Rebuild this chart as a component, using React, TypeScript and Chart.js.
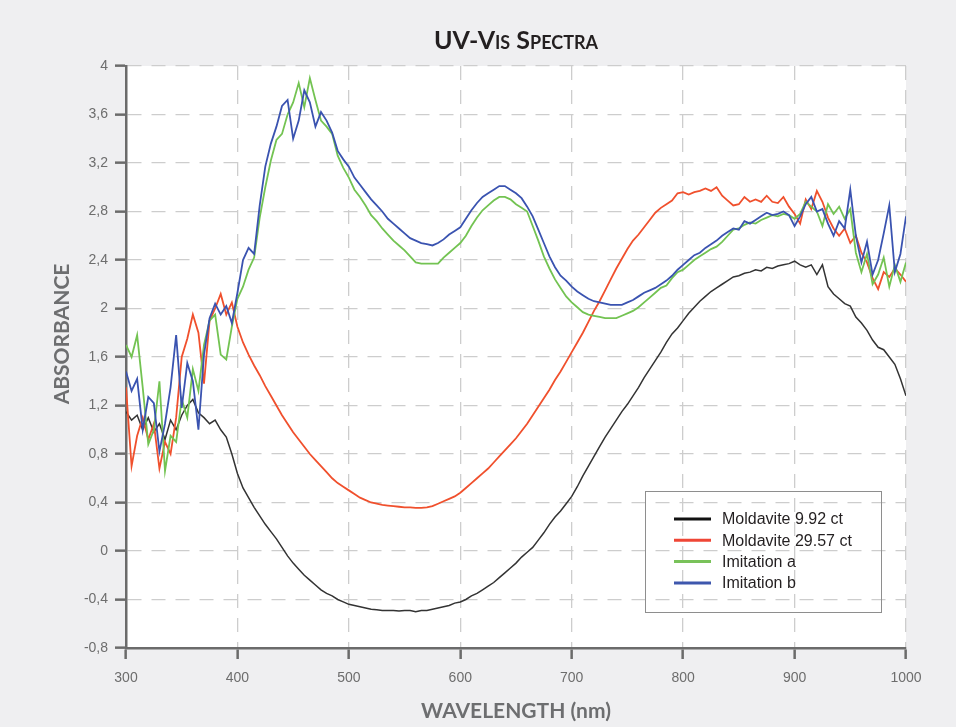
import React, { useEffect, useRef } from 'react';
import { Chart, registerables } from 'chart.js';

Chart.register(...registerables);

// ---- Data ----
const wavelengths = [
  300, 305, 310, 315, 320, 325, 330, 335, 340, 345,
  350, 355, 360, 365, 370, 375, 380, 385, 390, 395,
  400, 405, 410, 415, 420, 425, 430, 435, 440, 445,
  450, 455, 460, 465, 470, 475, 480, 485, 490, 495,
  500, 505, 510, 515, 520, 525, 530, 535, 540, 545,
  550, 555, 560, 565, 570, 575, 580, 585, 590, 595,
  600, 605, 610, 615, 620, 625, 630, 635, 640, 645,
  650, 655, 660, 665, 670, 675, 680, 685, 690, 695,
  700, 705, 710, 715, 720, 725, 730, 735, 740, 745,
  750, 755, 760, 765, 770, 775, 780, 785, 790, 795,
  800, 805, 810, 815, 820, 825, 830, 835, 840, 845,
  850, 855, 860, 865, 870, 875, 880, 885, 890, 895,
  900, 905, 910, 915, 920, 925, 930, 935, 940, 945,
  950, 955, 960, 965, 970, 975, 980, 985, 990, 995,
  1000,
];

const moldavite992 = [
  1.15, 1.08, 1.12, 1.0, 1.1, 0.98, 1.05, 0.92, 1.08, 1.0,
  1.12, 1.2, 1.25, 1.14, 1.1, 1.05, 1.08, 1.0, 0.94, 0.8,
  0.64, 0.52, 0.44, 0.36, 0.29, 0.22, 0.16, 0.1, 0.03, -0.04,
  -0.1, -0.15, -0.2, -0.24, -0.28, -0.32, -0.35, -0.37, -0.4, -0.42,
  -0.44, -0.45, -0.46, -0.47, -0.48, -0.485, -0.49, -0.49, -0.49, -0.495,
  -0.49, -0.49, -0.5, -0.49, -0.49, -0.48, -0.47, -0.46, -0.45, -0.43,
  -0.42, -0.4, -0.37, -0.35, -0.32, -0.29, -0.26, -0.22, -0.18, -0.14,
  -0.1, -0.05, -0.01, 0.03, 0.09, 0.15, 0.22, 0.28, 0.33, 0.39,
  0.45, 0.53, 0.62, 0.7, 0.78, 0.86, 0.94, 1.01, 1.08, 1.15,
  1.21, 1.28, 1.35, 1.43, 1.5, 1.57, 1.64, 1.72, 1.79, 1.84,
  1.9, 1.96, 2.01, 2.06, 2.1, 2.14, 2.17, 2.2, 2.23, 2.26,
  2.27, 2.29, 2.3, 2.32, 2.31, 2.34, 2.33, 2.35, 2.36, 2.37,
  2.39, 2.36, 2.34, 2.36, 2.28, 2.36, 2.18, 2.12, 2.08, 2.04,
  2.02, 1.93, 1.88, 1.82, 1.74, 1.68, 1.66, 1.6, 1.54, 1.42,
  1.28,
];

const moldavite2957 = [
  1.35, 0.7, 0.95, 1.1, 0.92, 1.05, 0.68, 0.9, 0.8, 1.1,
  1.6, 1.75, 1.95, 1.8, 1.38, 1.9, 2.0, 2.12, 1.95, 2.05,
  1.85, 1.72, 1.62, 1.53, 1.45, 1.36, 1.28, 1.2, 1.12, 1.05,
  0.98, 0.92, 0.86, 0.8, 0.75, 0.7, 0.65, 0.6, 0.56, 0.53,
  0.5, 0.47, 0.44, 0.42, 0.4, 0.39, 0.38, 0.375, 0.37, 0.365,
  0.36, 0.36, 0.355, 0.355, 0.36, 0.37, 0.39, 0.41, 0.43, 0.45,
  0.48, 0.52, 0.56, 0.6, 0.64, 0.68, 0.73, 0.78, 0.83, 0.88,
  0.93, 0.99, 1.05, 1.12, 1.19, 1.26, 1.33, 1.41, 1.48, 1.56,
  1.64, 1.72, 1.8, 1.89, 1.98, 2.06, 2.15, 2.24, 2.33, 2.41,
  2.49, 2.56, 2.61, 2.67, 2.73, 2.79, 2.83, 2.86, 2.89, 2.95,
  2.96, 2.94, 2.96, 2.97, 2.99, 2.97, 3.0, 2.93, 2.89, 2.85,
  2.86, 2.92, 2.88, 2.9, 2.88, 2.93, 2.88, 2.87, 2.92, 2.84,
  2.78, 2.7, 2.9, 2.82, 2.97, 2.88, 2.75, 2.66, 2.6, 2.66,
  2.54, 2.6, 2.46, 2.38, 2.25, 2.16, 2.3, 2.26, 2.33, 2.28,
  2.22,
];

const imitationA = [
  1.7, 1.6, 1.78, 1.35, 0.88, 1.0, 1.4, 0.66, 0.95, 0.9,
  1.25, 1.1, 1.5, 1.32, 1.7, 1.9, 1.95, 1.62, 1.58, 1.85,
  2.08, 2.18, 2.32, 2.42, 2.75, 3.0, 3.22, 3.39, 3.44, 3.6,
  3.7, 3.86, 3.66, 3.9, 3.72, 3.55, 3.5, 3.44, 3.26, 3.16,
  3.08, 2.98, 2.92, 2.85, 2.77, 2.72, 2.66, 2.61, 2.56, 2.52,
  2.48, 2.43, 2.38, 2.37, 2.37, 2.37, 2.37, 2.42, 2.46, 2.5,
  2.54, 2.6, 2.68, 2.75, 2.81, 2.85, 2.89, 2.92, 2.92, 2.9,
  2.86, 2.83, 2.8, 2.68, 2.56, 2.43, 2.33, 2.24, 2.17, 2.1,
  2.05, 2.01, 1.97, 1.95, 1.94, 1.93, 1.92, 1.92, 1.92, 1.94,
  1.96, 1.98, 2.01, 2.05, 2.09, 2.13, 2.17, 2.19, 2.25, 2.3,
  2.32, 2.36, 2.4, 2.43, 2.46, 2.49, 2.51, 2.55, 2.6, 2.65,
  2.66, 2.69, 2.71, 2.7, 2.73, 2.75, 2.77, 2.76, 2.78, 2.77,
  2.74, 2.78, 2.88, 2.84, 2.8, 2.68, 2.86, 2.78, 2.84, 2.74,
  2.82, 2.46, 2.3, 2.45, 2.2, 2.28, 2.42, 2.18, 2.36, 2.22,
  2.38,
];

const imitationB = [
  1.48, 1.32, 1.42, 1.0, 1.27, 1.22, 0.82, 1.05, 1.35, 1.78,
  1.18, 1.55, 1.4, 1.0, 1.62, 1.92, 2.04, 1.95, 2.02, 1.88,
  2.13, 2.4, 2.5, 2.45, 2.85, 3.17, 3.36, 3.5, 3.67, 3.72,
  3.4, 3.55, 3.8, 3.7, 3.5, 3.62, 3.55, 3.45, 3.3, 3.23,
  3.17, 3.08, 3.02, 2.96, 2.9, 2.85, 2.8, 2.74, 2.7, 2.66,
  2.62, 2.58, 2.56, 2.54, 2.53, 2.52, 2.54, 2.57, 2.61, 2.64,
  2.67, 2.74, 2.81, 2.87, 2.92, 2.95, 2.98, 3.01, 3.01, 2.98,
  2.95, 2.91, 2.84, 2.76, 2.65, 2.54, 2.43, 2.34, 2.27, 2.23,
  2.18, 2.14, 2.11, 2.08, 2.06, 2.05, 2.04, 2.03, 2.03, 2.03,
  2.05, 2.07, 2.1, 2.13, 2.15, 2.17, 2.2, 2.23, 2.27, 2.32,
  2.36, 2.4, 2.44, 2.46, 2.5, 2.53, 2.56, 2.6, 2.63, 2.66,
  2.65, 2.72, 2.7, 2.73, 2.76, 2.79, 2.77, 2.78, 2.8, 2.77,
  2.68, 2.76, 2.86, 2.92, 2.8, 2.82, 2.7, 2.6, 2.72, 2.66,
  2.98, 2.6, 2.38, 2.55, 2.28, 2.4, 2.62, 2.85, 2.3, 2.45,
  2.76,
];

const seriesLabels = ['Moldavite 9.92 ct', 'Moldavite 29.57 ct', 'Imitation a', 'Imitation b'];
const seriesData = [moldavite992, moldavite2957, imitationA, imitationB];
const lineColors = ['#333333', '#f0502d', '#73c352', '#3a53b0'];
const legendColors = ['#111111', '#ef4636', '#79c25a', '#3e57ad'];

const xTickValues = [300, 400, 500, 600, 700, 800, 900, 1000];
const yTickValues = [-0.8, -0.4, 0, 0.4, 0.8, 1.2, 1.6, 2, 2.4, 2.8, 3.2, 3.6, 4];

const chartTitle = 'UV-Vis Spectra';
const xTitle = 'WAVELENGTH (nm)';
const yTitle = 'ABSORBANCE';

const AXIS_GRAY = '#6b6b6b';
const GRID_GRAY = '#cdcdcd';
const TICK_FONT = { family: '"Liberation Sans", Arial, sans-serif', size: 14 };

const decorPlugin = {
  id: 'decor',
  beforeDraw(chart: any) {
    const { ctx, chartArea: a } = chart;
    ctx.save();
    ctx.fillStyle = '#ffffff';
    ctx.fillRect(a.left, a.top, a.right - a.left, a.bottom - a.top);
    ctx.restore();
  },
  afterDraw(chart: any) {
    const { ctx, chartArea: a } = chart;
    const cx = (a.left + a.right) / 2;
    ctx.save();

    // Title in small caps
    const big = 25;
    const small = 18;
    const runs: { t: string; s: number }[] = [];
    for (const ch of chartTitle) {
      const isLower = ch !== ch.toUpperCase();
      const size = isLower ? small : big;
      const last = runs[runs.length - 1];
      if (last && last.s === size) last.t += ch.toUpperCase();
      else runs.push({ t: ch.toUpperCase(), s: size });
    }
    let total = 0;
    for (const r of runs) {
      ctx.font = `bold ${r.s}px Lato, "Open Sans", sans-serif`;
      total += ctx.measureText(r.t).width;
    }
    let x = cx - total / 2;
    ctx.fillStyle = '#231f20';
    ctx.textBaseline = 'alphabetic';
    ctx.textAlign = 'left';
    for (const r of runs) {
      ctx.font = `bold ${r.s}px Lato, "Open Sans", sans-serif`;
      ctx.fillText(r.t, x, 49);
      x += ctx.measureText(r.t).width;
    }

    // Axis titles
    ctx.fillStyle = '#6d6e70';
    ctx.font = 'bold 21px Lato, "Open Sans", sans-serif';
    ctx.textAlign = 'center';
    ctx.fillText(xTitle, cx, 718);
    ctx.save();
    ctx.translate(69, 334);
    ctx.rotate(-Math.PI / 2);
    ctx.fillText(yTitle, 0, 0);
    ctx.restore();

    // Legend box
    ctx.strokeStyle = '#8e8e8e';
    ctx.lineWidth = 1;
    ctx.strokeRect(645.5, 491.5, 236, 121);
    ctx.font = '16px "Liberation Sans", Arial, sans-serif';
    ctx.textAlign = 'left';
    ctx.textBaseline = 'middle';
    for (let i = 0; i < seriesLabels.length; i++) {
      const y = 519 + i * 21.3;
      ctx.strokeStyle = legendColors[i];
      ctx.lineWidth = 3;
      ctx.beginPath();
      ctx.moveTo(674, y);
      ctx.lineTo(711, y);
      ctx.stroke();
      ctx.fillStyle = '#231f20';
      ctx.fillText(seriesLabels[i], 722, y + 1);
    }
    ctx.restore();
  },
};

export default function App() {
  const ref = useRef<HTMLCanvasElement | null>(null);

  useEffect(() => {
    if (!ref.current) return;
    const datasets = seriesData.map((vals, i) => ({
      label: seriesLabels[i],
      data: wavelengths.map((w, j) => ({ x: w, y: vals[j] })),
      borderColor: lineColors[i],
      backgroundColor: lineColors[i],
      borderWidth: i === 0 ? 1.5 : 1.8,
      pointRadius: 0,
      tension: 0,
      fill: false,
      order: 3 - i,
    }));

    const chart = new Chart(ref.current, {
      type: 'line',
      data: { datasets },
      options: {
        responsive: false,
        animation: false,
        devicePixelRatio: 1,
        events: [],
        layout: { padding: { top: 66, right: 50, left: 0, bottom: 0 } },
        plugins: {
          legend: { display: false },
          title: { display: false },
          tooltip: { enabled: false },
        },
        scales: {
          x: {
            type: 'linear',
            min: 300,
            max: 1000,
            afterBuildTicks: (s: any) => {
              s.ticks = xTickValues.map((v) => ({ value: v }));
            },
            afterFit: (s: any) => {
              s.height = 79;
            },
            ticks: {
              font: TICK_FONT,
              color: '#6d6d6d',
              padding: 11,
              maxRotation: 0,
              callback: (v: any) => String(v),
            },
            grid: {
              color: GRID_GRAY,
              lineWidth: 1.3,
              tickLength: 11,
              tickColor: AXIS_GRAY,
              tickWidth: 2.5,
              tickBorderDash: [],
            },
            border: { display: true, color: AXIS_GRAY, width: 2.5, dash: [14, 10] },
          },
          y: {
            type: 'linear',
            min: -0.8,
            max: 4,
            afterBuildTicks: (s: any) => {
              s.ticks = yTickValues.map((v) => ({ value: v }));
            },
            afterFit: (s: any) => {
              s.width = 126;
            },
            ticks: {
              font: TICK_FONT,
              color: '#6d6d6d',
              padding: 7,
              callback: (v: any) => String(v).replace('.', ','),
            },
            grid: {
              color: GRID_GRAY,
              lineWidth: 1.3,
              tickLength: 11,
              tickColor: AXIS_GRAY,
              tickWidth: 2.5,
              tickBorderDash: [],
            },
            border: { display: true, color: AXIS_GRAY, width: 2.5, dash: [14, 10] },
          },
        },
      },
      plugins: [decorPlugin],
    } as any);

    return () => chart.destroy();
  }, []);

  return (
    <div
      style={{
        position: 'fixed',
        left: 0,
        top: 0,
        width: 956,
        height: 727,
        background: '#efeff1',
      }}
    >
      <canvas ref={ref} width={956} height={727} style={{ display: 'block', width: 956, height: 727 }} />
    </div>
  );
}
